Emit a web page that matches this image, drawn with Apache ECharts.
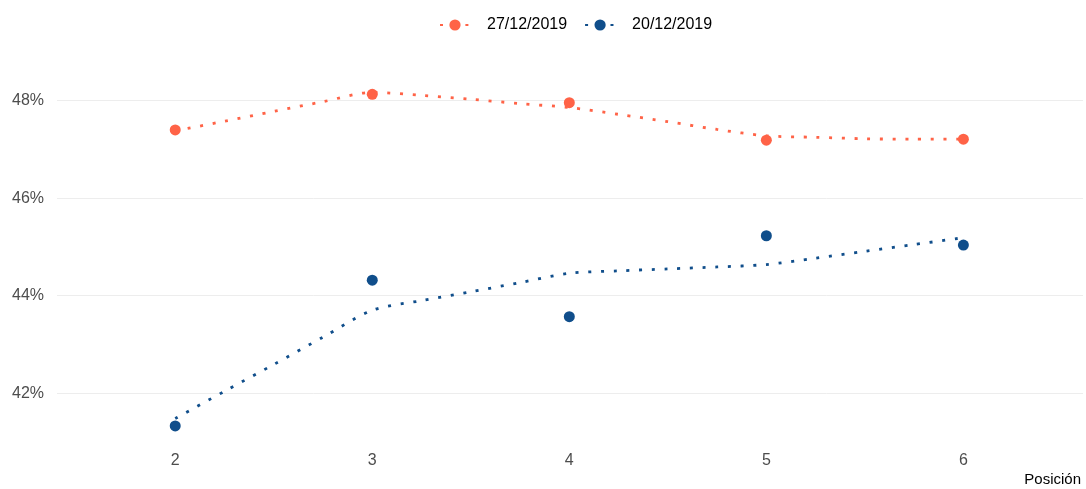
<!DOCTYPE html>
<html>
<head>
<meta charset="utf-8">
<script src="https://cdn.jsdelivr.net/npm/echarts@6/dist/echarts.min.js"></script>
<style>
  html, body { margin: 0; padding: 0; background: #ffffff; }
  #chart { width: 1086px; height: 489px; }
</style>
</head>
<body>
<div id="chart"></div>
<script>
// Categories (positions)
const positions = [2, 3, 4, 5, 6];
const seriesNames = ['27/12/2019', '20/12/2019'];

// Observed values (%)
const values2712 = [47.40, 48.13, 47.96, 47.19, 47.21];
const values2012 = [41.33, 44.32, 43.57, 45.23, 45.04];

// Smoothed trend
const trendX = [2, 2.25, 2.5, 2.75, 3, 3.25, 3.5, 3.75, 4, 4.25, 4.5, 4.75, 5, 5.25, 5.5, 5.75, 6];
const trend2712 = [47.38, 47.58, 47.78, 47.98, 48.17, 48.11, 48.03, 47.94, 47.86, 47.72, 47.57, 47.41, 47.28, 47.25, 47.22, 47.21, 47.21];
const trend2012 = [41.48, 42.04, 42.59, 43.15, 43.70, 43.90, 44.08, 44.27, 44.46, 44.51, 44.55, 44.59, 44.64, 44.77, 44.91, 45.05, 45.19];

const colors = ['#FF6347', '#104E8B'];

const pairs = (xs, ys) => xs.map((x, i) => [x, ys[i]]);

const chart = echarts.init(document.getElementById('chart'), null, { renderer: 'canvas' });

const dotted = [3, 9.7];

chart.setOption({
  animation: false,
  backgroundColor: '#ffffff',
  grid: { left: 57, right: 0, top: 77.3, bottom: 47, containLabel: false },
  legend: {
    data: seriesNames,
    left: 434,
    top: 12,
    itemWidth: 30,
    itemHeight: 14,
    itemGap: 17,
    textStyle: { fontSize: 16, color: '#000000', fontFamily: 'Liberation Sans, Arial, sans-serif', padding: [0, 0, 0, 12] }
  },
  xAxis: {
    type: 'value',
    min: 1.4,
    max: 6.607,
    interval: 0.2,
    name: 'Posición',
    nameLocation: 'end',
    nameGap: 0,
    nameTextStyle: {
      fontSize: 15,
      color: '#000000',
      fontFamily: 'Liberation Sans, Arial, sans-serif',
      align: 'right',
      verticalAlign: 'top',
      padding: [30, 2, 0, 0]
    },
    axisLine: { show: false },
    axisTick: { show: false },
    splitLine: { show: false },
    axisLabel: {
      margin: 11,
      fontSize: 16,
      color: '#4d4d4d',
      fontFamily: 'Liberation Sans, Arial, sans-serif',
      formatter: function (v) {
        const r = Math.round(v);
        return (Math.abs(v - r) < 1e-6 && positions.indexOf(r) >= 0) ? String(r) : '';
      }
    }
  },
  yAxis: {
    type: 'value',
    min: 41,
    max: 48.48,
    interval: 1,
    axisLine: { show: false },
    axisTick: { show: false },
    splitLine: { show: true, lineStyle: { color: ['rgba(0,0,0,0)', '#ededed'], width: 1 } },
    axisLabel: {
      margin: 13,
      fontSize: 16,
      color: '#4d4d4d',
      fontFamily: 'Liberation Sans, Arial, sans-serif',
      formatter: function (v) {
        const r = Math.round(v);
        return (Math.abs(v - r) < 1e-6 && r % 2 === 0) ? r + '%' : '';
      }
    }
  },
  series: [
    {
      name: seriesNames[0], type: 'line', z: 3, smooth: 0.3,
      symbol: 'circle', showSymbol: false, symbolSize: 11,
      data: pairs(trendX, trend2712),
      itemStyle: { color: colors[0], opacity: 1 },
      lineStyle: { color: colors[0], width: 2.8, type: dotted }
    },
    {
      name: seriesNames[1], type: 'line', z: 3, smooth: 0.3,
      symbol: 'circle', showSymbol: false, symbolSize: 11,
      data: pairs(trendX, trend2012),
      itemStyle: { color: colors[1], opacity: 1 },
      lineStyle: { color: colors[1], width: 2.8, type: dotted }
    },
    {
      name: seriesNames[0], type: 'scatter', z: 2, symbol: 'circle', symbolSize: 11,
      data: pairs(positions, values2712),
      itemStyle: { color: colors[0], opacity: 1 }
    },
    {
      name: seriesNames[1], type: 'scatter', z: 2, symbol: 'circle', symbolSize: 11,
      data: pairs(positions, values2012),
      itemStyle: { color: colors[1], opacity: 1 }
    }
  ]
});
</script>
</body>
</html>
